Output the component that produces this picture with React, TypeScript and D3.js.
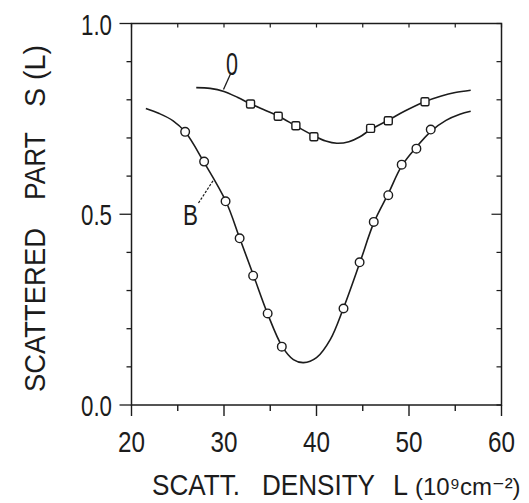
import React from "react";
import * as d3 from "d3";

// ---- data ----
const xTicks = [20, 30, 40, 50, 60];
const yTickLabels = ["0.0", "0.5", "1.0"];
const yTickValues = [0, 0.5, 1.0];

// Curve B (fitted line)
const bLineX = [21.55, 23, 24.5, 25.8, 27.8, 30.2, 31.7, 33.2, 34.7, 36.3, 37.5, 38.6, 40, 41.5, 42.9, 44.7, 46.2, 47.8, 49.2, 50.8, 52.4, 54, 55.5, 56.67];
const bLineY = [0.777, 0.764, 0.745, 0.716, 0.638, 0.534, 0.437, 0.339, 0.240, 0.153, 0.119, 0.111, 0.124, 0.172, 0.253, 0.374, 0.478, 0.556, 0.626, 0.676, 0.718, 0.746, 0.762, 0.770];
// Curve B measured points (circles)
const bPtsX = [25.8, 27.85, 30.17, 31.69, 33.15, 34.72, 36.25, 42.92, 44.66, 46.19, 47.76, 49.21, 50.8, 52.35];
const bPtsY = [0.716, 0.638, 0.534, 0.437, 0.339, 0.240, 0.153, 0.253, 0.374, 0.480, 0.550, 0.630, 0.672, 0.722];

// Curve 0 (fitted line)
const oLineX = [27.0, 28.5, 30, 31.5, 32.9, 34.5, 35.9, 37.8, 39.7, 41, 42.2, 43.5, 44.7, 45.9, 47.8, 49.5, 51.7, 53.5, 55, 56.67];
const oLineY = [0.832, 0.830, 0.822, 0.806, 0.789, 0.772, 0.757, 0.731, 0.706, 0.692, 0.686, 0.690, 0.703, 0.723, 0.747, 0.770, 0.795, 0.810, 0.819, 0.825];
// Curve 0 measured points (squares)
const oPtsX = [32.87, 35.86, 37.77, 39.72, 45.85, 47.76, 51.73];
const oPtsY = [0.789, 0.757, 0.732, 0.703, 0.725, 0.745, 0.795];

const W = 529;
const H = 503;
const INK = "#1c1c1c";
const FONT = "'Liberation Sans', 'DejaVu Sans', sans-serif";

export default function App() {
  const x = d3.scaleLinear().domain([20, 60]).range([131.5, 501.5]);
  const y = d3.scaleLinear().domain([0, 1]).range([405, 23.5]);

  const line = d3
    .line<[number, number]>()
    .x((d) => x(d[0]))
    .y((d) => y(d[1]))
    .curve(d3.curveCatmullRom.alpha(0.5));

  const bLine = line(bLineX.map((v, i) => [v, bLineY[i]] as [number, number])) || "";
  const oLine = line(oLineX.map((v, i) => [v, oLineY[i]] as [number, number])) || "";

  const x0 = x(20), x1 = x(60), y0 = y(0), y1 = y(1);
  const minorX = d3.range(20, 60.01, 5);
  const minorY = d3.range(0, 1.001, 0.1);

  const textProps = { fontFamily: FONT, fill: INK, fontSize: 30 } as const;

  return (
    <svg width={W} height={H} style={{ position: "absolute", left: 0, top: 0, background: "#fff" }}>
      <rect x={0} y={0} width={W} height={H} fill="#fff" />
      {/* frame */}
      <rect x={x0} y={y1} width={x1 - x0} height={y0 - y1} fill="none" stroke={INK} strokeWidth={1.5} />

      {/* bottom ticks (outward) */}
      {minorX.map((v) => {
        const major = Math.abs(v % 10) < 1e-6;
        return <line key={"bx" + v} x1={x(v)} x2={x(v)} y1={y0} y2={y0 + (major ? 11 : 6)} stroke={INK} strokeWidth={1.4} />;
      })}
      {/* top ticks (inward) */}
      {minorX.map((v) => (
        <line key={"tx" + v} x1={x(v)} x2={x(v)} y1={y1} y2={y1 + 4} stroke={INK} strokeWidth={1.2} />
      ))}
      {/* left ticks (outward) */}
      {minorY.map((v) => {
        const major = Math.abs(v - 0) < 1e-6 || Math.abs(v - 0.5) < 1e-6 || Math.abs(v - 1) < 1e-6;
        return <line key={"ly" + v} x1={x0} x2={x0 - (major ? 12 : 5)} y1={y(v)} y2={y(v)} stroke={INK} strokeWidth={1.3} />;
      })}
      {/* right ticks (inward) */}
      {minorY.map((v) => {
        const major = Math.abs(v - 0.5) < 1e-6;
        return <line key={"ry" + v} x1={x1} x2={x1 - (major ? 10 : 5)} y1={y(v)} y2={y(v)} stroke={INK} strokeWidth={1.2} />;
      })}

      {/* tick labels */}
      {xTicks.map((v) => (
        <text key={"xl" + v} x={x(v)} y={452} textAnchor="middle" textLength={27} lengthAdjust="spacingAndGlyphs" {...textProps}>
          {String(v)}
        </text>
      ))}
      {yTickValues.map((v, i) => (
        <text key={"yl" + v} x={112} y={y(v) + 11} textAnchor="end" textLength={31} lengthAdjust="spacingAndGlyphs" {...textProps}>
          {yTickLabels[i]}
        </text>
      ))}

      {/* curves */}
      <path d={oLine} fill="none" stroke={INK} strokeWidth={1.6} />
      <path d={bLine} fill="none" stroke={INK} strokeWidth={1.6} />

      {/* markers */}
      {bPtsX.map((v, i) => (
        <circle key={"bc" + i} cx={x(v)} cy={y(bPtsY[i])} r={4.3} fill="#fff" stroke={INK} strokeWidth={1.4} />
      ))}
      {oPtsX.map((v, i) => (
        <rect key={"os" + i} x={x(v) - 4} y={y(oPtsY[i]) - 4} width={8} height={8} rx={1.5} fill="#fff" stroke={INK} strokeWidth={1.4} />
      ))}

      {/* curve labels */}
      <line x1={230.7} y1={73.5} x2={223.5} y2={89.5} stroke={INK} strokeWidth={1.3} />
      <text x={232} y={75} textAnchor="middle" textLength={12} lengthAdjust="spacingAndGlyphs" {...textProps} fontSize={31}>0</text>
      <line x1={198.5} y1={203} x2={213.5} y2={180} stroke={INK} strokeWidth={1.2} strokeDasharray="2.5,1.5" />
      <text x={190.5} y={225} textAnchor="middle" textLength={15} lengthAdjust="spacingAndGlyphs" {...textProps}>B</text>

      {/* x axis title */}
      <text x={152} y={495} textLength={88} lengthAdjust="spacingAndGlyphs" {...textProps}>SCATT.</text>
      <text x={262} y={495} textLength={113} lengthAdjust="spacingAndGlyphs" {...textProps}>DENSITY</text>
      <text x={393} y={495} textLength={15} lengthAdjust="spacingAndGlyphs" {...textProps}>L</text>
      <text x={415} y={495} fontFamily={FONT} fill={INK} fontSize={24}>(10⁹cm⁻²)</text>

      {/* y axis title (rotated) */}
      <g transform="translate(45,0) rotate(-90)">
        <text x={-392} y={0} textLength={164} lengthAdjust="spacingAndGlyphs" {...textProps}>SCATTERED</text>
        <text x={-200} y={0} textLength={68} lengthAdjust="spacingAndGlyphs" {...textProps}>PART</text>
        <text x={-107} y={0} textLength={62} lengthAdjust="spacingAndGlyphs" {...textProps} xmlSpace="preserve">S (L)</text>
      </g>
    </svg>
  );
}
